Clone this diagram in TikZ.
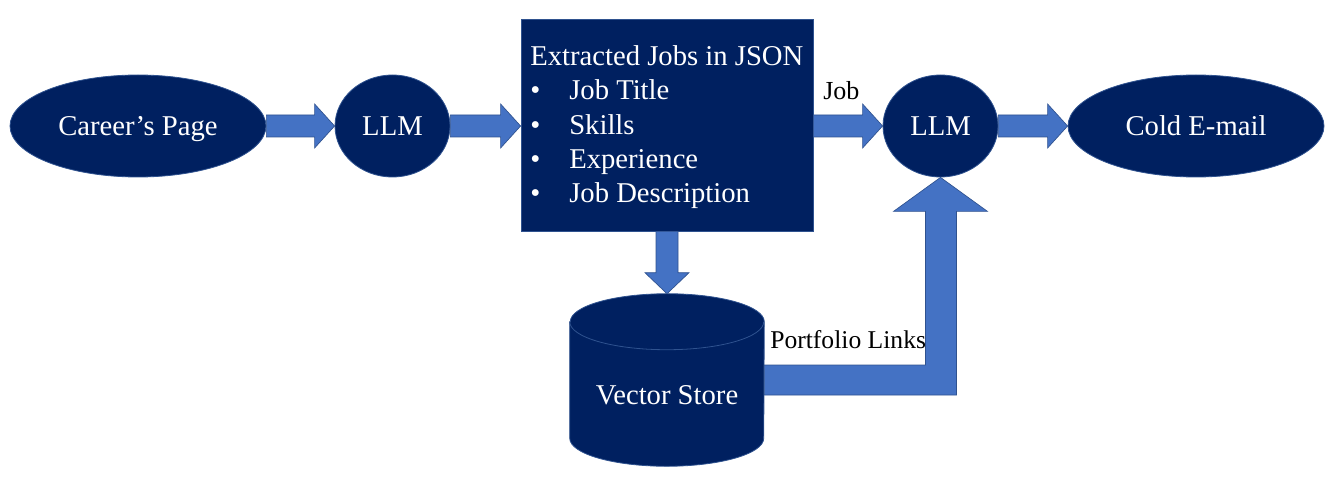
\documentclass[tikz,border=0pt]{standalone}
\usepackage{fontspec}
\setmainfont{Liberation Serif}
\usetikzlibrary{shapes.geometric,calc}
\definecolor{navy}{HTML}{002060}
\definecolor{edgeblue}{HTML}{2F528F}
\definecolor{arrowblue}{HTML}{4472C4}
\begin{document}
\begin{tikzpicture}[x=0.75pt,y=-0.75pt,
  bigfont/.style={font=\fontsize{21.5}{25.8}\selectfont},
  navynode/.style={fill=navy, draw=edgeblue, line width=0.6pt, text=white, bigfont, inner sep=0pt},
  oval/.style={navynode, ellipse, text depth=0pt},
  whitetext/.style={text=white, bigfont, inner sep=0pt},
  blockarrow/.style={fill=arrowblue, draw=edgeblue, line width=0.5pt, line join=miter},
  smalllabel/.style={font=\fontsize{19.5}{23}\selectfont, inner sep=0pt, text=black}]
\useasboundingbox (0,0) rectangle (1336,481);

% nodes
\node[oval, minimum width=192pt, minimum height=76.5pt] (career) at (138,126) {Career’s Page};
\node[oval, minimum width=86.25pt, minimum height=76.5pt] (llm1) at (392.5,126) {LLM};
\node[navynode, rectangle, minimum width=219pt, minimum height=159pt] (box) at (667,125) {};
\node[oval, minimum width=86.25pt, minimum height=76.5pt] (llm2) at (940.5,126) {LLM};
\node[oval, minimum width=192pt, minimum height=76.5pt] (cold) at (1196,126) {Cold E-mail};
\node[inner sep=0pt, minimum width=145.5pt, minimum height=129pt] (store) at (667,380) {};

% cylinder
\filldraw[fill=navy, draw=edgeblue, line width=0.6pt]
  ($(store.north west)+(0,28)$) -- ($(store.south west)+(0,-28)$)
  arc[start angle=180, end angle=360, x radius=72.75pt, y radius=21pt]
  -- ($(store.north east)+(0,28)$)
  arc[start angle=0, end angle=180, x radius=72.75pt, y radius=21pt] -- cycle;
\draw[edgeblue, line width=0.6pt] ($(store.north west)+(0,28)$)
  arc[start angle=180, end angle=360, x radius=72.75pt, y radius=21pt];
\node[whitetext] (storetext) at ($(store.center)+(0,15)$) {Vector Store};

% box text
\node[whitetext, anchor=base west] (t0) at (530,66) {Extracted Jobs in JSON};
\node[whitetext, anchor=base west] (b1) at (530,100) {\textbullet};
\node[whitetext, anchor=base west] (t1) at (569,100) {Job Title};
\node[whitetext, anchor=base west] (b2) at (530,135) {\textbullet};
\node[whitetext, anchor=base west] (t2) at (569,135) {Skills};
\node[whitetext, anchor=base west] (b3) at (530,169) {\textbullet};
\node[whitetext, anchor=base west] (t3) at (569,169) {Experience};
\node[whitetext, anchor=base west] (b4) at (530,203) {\textbullet};
\node[whitetext, anchor=base west] (t4) at (569,203) {Job Description};

% horizontal block arrows (kept level at y of the LLM / ellipse centres)
\foreach \a/\b in {career/llm1, llm1/box, box/llm2, llm2/cold}{
  \coordinate (s) at (\a.east |- llm1.center);
  \coordinate (e) at (\b.west |- llm1.center);
  \filldraw[blockarrow]
    ($(s)+(0,-11)$) -- ($(e)+(-20,-11)$) -- ($(e)+(-20,-22)$)
    -- (e) -- ($(e)+(-20,22)$) -- ($(e)+(-20,11)$)
    -- ($(s)+(0,11)$) -- cycle;
}

% down arrow box -> store
\filldraw[blockarrow]
  ($(box.south)+(-11,0)$) -- ($(store.north)+(-11,-21)$) -- ($(store.north)+(-22,-21)$)
  -- (store.north) -- ($(store.north)+(22,-21)$) -- ($(store.north)+(11,-21)$)
  -- ($(box.south)+(11,0)$) -- cycle;

% elbow arrow store -> llm2
\filldraw[blockarrow]
  ($(store.east)+(0,15)$) -- ($(store.east -| llm2.south)+(16,15)$)
  -- ($(llm2.south)+(16,34)$) -- ($(llm2.south)+(47,34)$)
  -- (llm2.south) -- ($(llm2.south)+(-47,34)$) -- ($(llm2.south)+(-15,34)$)
  -- ($(store.east -| llm2.south)+(-15,-15)$) -- ($(store.east)+(0,-15)$) -- cycle;

% labels
\node[smalllabel, anchor=base west] (joblabel) at (823,100) {Job};
\node[smalllabel, font=\fontsize{19.2}{23}\selectfont, anchor=base west] (portlabel) at (770,348) {Portfolio Links};
\end{tikzpicture}
\end{document}
